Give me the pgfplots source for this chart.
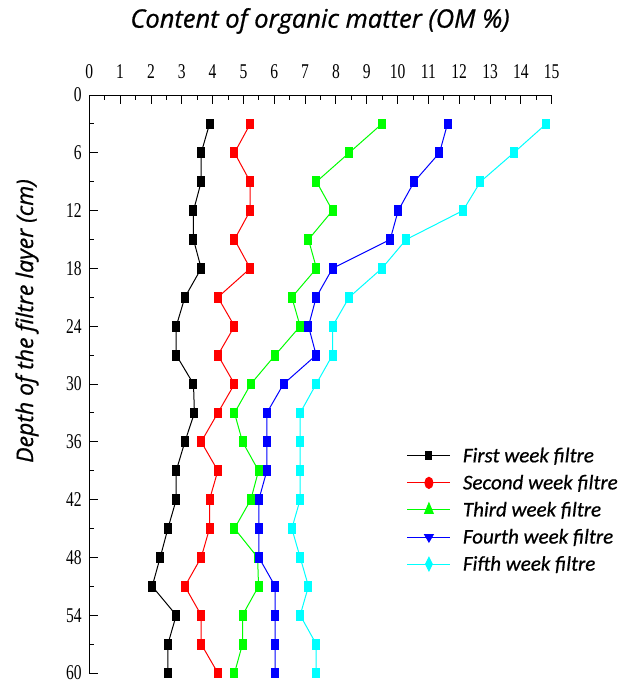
\documentclass[border=0pt]{standalone}
\usepackage{pgfplots}
\pgfplotsset{compat=1.18}
\usepackage{pgfplotstable}
\usepackage{fontspec}
\setmainfont{Liberation Serif}
\newfontfamily\tickfont{Liberation Serif}
\newfontfamily\titlefont[FakeBold=0.8]{Open Sans}
\newfontfamily\legfont[FakeBold=0.6]{Carlito}

\pgfplotstableread{
depth first second third fourth fifth
3  3.90 5.22 9.49 11.62 14.82
6  3.63 4.71 8.43 11.36 13.77
9  3.63 5.22 7.37 10.54 12.69
12 3.38 5.22 7.89 10.02 12.12
15 3.38 4.71 7.11 9.76  10.28
18 3.63 5.22 7.37 7.89  9.49
21 3.10 4.17 6.57 7.36  8.43
24 2.82 4.71 6.84 7.11  7.89
27 2.82 4.17 6.03 7.36  7.89
30 3.38 4.71 5.24 6.30  7.36
33 3.41 4.17 4.71 5.76  6.84
36 3.10 3.63 4.97 5.76  6.84
39 2.82 4.17 5.49 5.76  6.84
42 2.82 3.90 5.24 5.50  6.84
45 2.55 3.90 4.71 5.50  6.57
48 2.30 3.63 5.46 5.50  6.84
51 2.04 3.10 5.49 6.03  7.11
54 2.82 3.63 4.97 6.03  6.84
57 2.55 3.63 4.97 6.03  7.36
60 2.55 4.17 4.71 6.03  7.36
}\datatable

\definecolor{cgreen}{RGB}{0,255,0}
\definecolor{ccyan}{RGB}{0,255,255}
\definecolor{cblue}{RGB}{0,0,255}
\definecolor{cred}{RGB}{255,0,0}

\begin{document}
\begin{tikzpicture}[x=1pt,y=1pt]
\begin{axis}[
  at={(89.3pt,-95pt)}, anchor=north west,
  scale only axis, width=462.4pt, height=578pt,
  xmin=0, xmax=15, ymin=0, ymax=60,
  y dir=reverse,
  axis x line*=top, axis y line*=left,
  xtick distance=1, ytick distance=6,
  minor x tick num=1, minor y tick num=1,
  tick align=inside,
  major tick length=9pt, minor tick length=5pt,
  every tick/.style={black, line width=0.9pt},
  axis line style={line width=1pt},
  /pgf/number format/assume math mode=true,
  ticklabel style={font=\tickfont\fontsize{21}{21}\selectfont},
  xticklabel style={yshift=13pt},
  yticklabel style={xshift=-4pt},
  xticklabel={\scalebox{0.74}[1]{\pgfmathprintnumber{\tick}}},
  yticklabel={\scalebox{0.74}[1]{\pgfmathprintnumber{\tick}}},
  clip=false,
  legend cell align=left,
  legend style={draw=none, fill=none, at={(0.68,0.397)}, anchor=north west,
    font=\legfont\itshape\fontsize{21}{21}\selectfont, row sep=7pt,
    column sep=10pt, nodes={inner sep=2pt}},
  legend image code/.code={%
    \draw[mark repeat=2,mark phase=2,#1] plot coordinates {(0pt,0pt) (21.5pt,0pt) (43pt,0pt)};},
  every axis plot/.append style={line width=1pt, mark=square*, mark size=3.5pt,
    mark options={solid, yscale=1.4}},
]
\addplot[black, forget plot] table[x=first, y=depth] {\datatable};
\addplot[cred, forget plot] table[x=second, y=depth] {\datatable};
\addplot[cgreen, forget plot] table[x=third, y=depth] {\datatable};
\addplot[cblue, forget plot] table[x=fourth, y=depth] {\datatable};
\addplot[ccyan, forget plot] table[x=fifth, y=depth] {\datatable};

\addlegendimage{black, line width=1pt, mark=square*, mark size=3pt, mark options={yscale=1.4}}
\addlegendentry{First week filtre}
\addlegendimage{cred, line width=1pt, mark=*, mark size=4pt}
\addlegendentry{Second week filtre}
\addlegendimage{cgreen, line width=1pt, mark=triangle*, mark size=5pt}
\addlegendentry{Third week filtre}
\addlegendimage{cblue, line width=1pt, mark=triangle*, mark size=5pt, mark options={rotate=180}}
\addlegendentry{Fourth week filtre}
\addlegendimage{ccyan, line width=1pt, mark=diamond*, mark size=4.5pt, mark options={yscale=1.5}}
\addlegendentry{Fifth week filtre}
\end{axis}
\node[font=\titlefont\itshape\fontsize{25.5}{25.5}\selectfont] at (320,-21) {Content of organic matter (OM \%)};
\node[font=\titlefont\itshape\fontsize{23}{23}\selectfont, rotate=90] at (27,-321) {Depth of the filtre layer (cm)};
\pgfresetboundingbox
\path (0,0) rectangle (622,-684);
\end{tikzpicture}
\end{document}
